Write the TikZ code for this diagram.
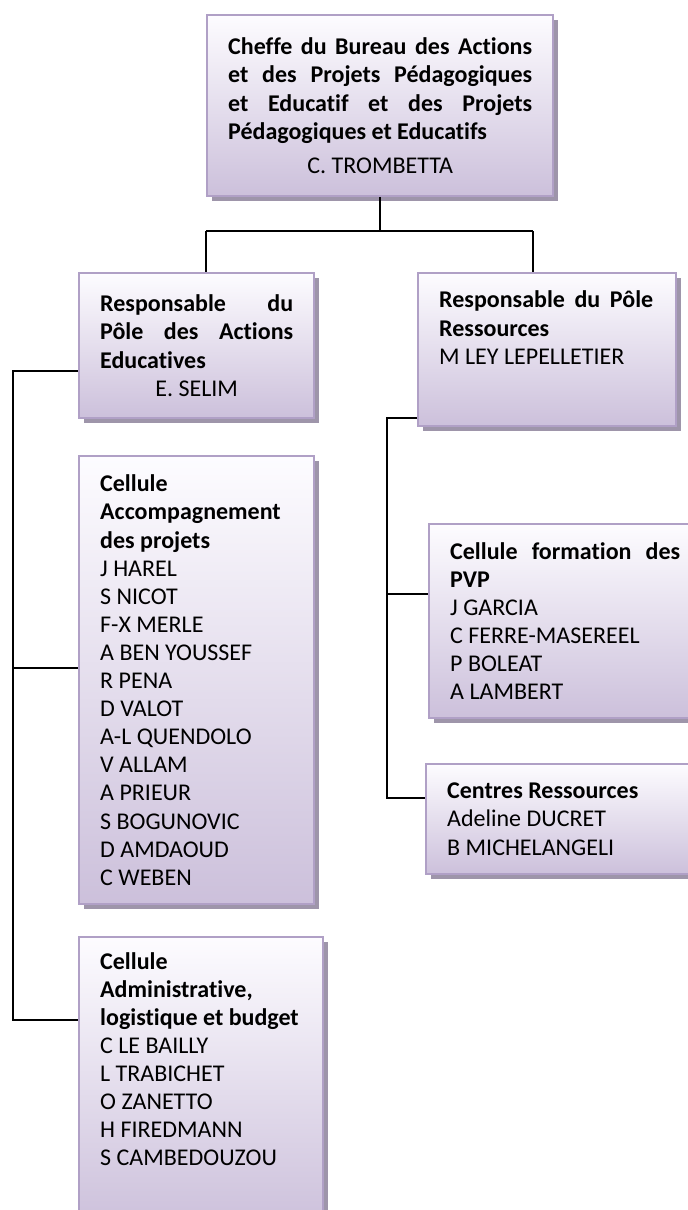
\documentclass[tikz,border=0pt]{standalone}
\usepackage{fontspec}
\setmainfont{Carlito}[Ligatures=NoCommon]
\usepackage{tikz}
\usetikzlibrary{shadows}
\definecolor{unitline}{RGB}{176,160,198}
\definecolor{unittop}{RGB}{253,252,255}
\definecolor{unitbot}{RGB}{204,192,219}
\definecolor{unitshade}{RGB}{158,149,170}
\newcommand{\fullrow}[2][\hsize]{\makebox[#1][s]{\spaceskip=0pt\xspaceskip=0pt\relax #2}}
\newcommand{\namerow}[1]{\makebox[\hsize]{#1}}
\tikzstyle{unit} = [rectangle, anchor=north west, draw=unitline, line width=1.2pt, top color=unittop, bottom color=unitbot, drop shadow={shadow xshift=2.2pt, shadow yshift=-2.5pt, fill=unitshade, opacity=1}, inner xsep=10.5pt, inner ysep=0pt, align=flush left, font=\fontsize{12}{14.05}\selectfont]
\tikzstyle{link} = [line width=1pt, black]

\begin{document}
\begin{tikzpicture}[x=0.5pt, y=-0.5pt]
\useasboundingbox (0,0) rectangle (688,1210);

\node (n1) [unit, text width=152pt, minimum width=173pt, minimum height=90.5pt] at (206,14) {\fullrow{\textbf{Cheffe du Bureau des Actions}}\\ \fullrow{\textbf{et des Projets Pédagogiques}}\\ \fullrow{\textbf{et Educatif et des Projets}}\\ \textbf{Pédagogiques et Educatifs}\\[3pt] \namerow{C. TROMBETTA}};
\node (n2) [unit, text width=96.5pt, minimum width=117.5pt, minimum height=72.5pt] at (78,272) {\fullrow{\textbf{Responsable du}}\\ \fullrow{\textbf{Pôle des Actions}}\\ \textbf{Educatives}\\ \namerow{E. SELIM}};
\node (n3) [unit, text width=108pt, minimum width=129pt, minimum height=76.5pt] at (417,272) {\fullrow[107pt]{\textbf{Responsable du Pôle}}\\ \textbf{Ressources}\\ M LEY LEPELLETIER\\[8pt] \mbox{}};
\node (n4) [unit, text width=96.5pt, minimum width=117.5pt, minimum height=224pt] at (78,455) {\textbf{Cellule}\\ \textbf{Accompagnement}\\ \textbf{des projets}\\ J HAREL\\ S NICOT\\ F-X MERLE\\ A BEN YOUSSEF\\ R PENA\\ D VALOT\\ A-L QUENDOLO\\ V ALLAM\\ A PRIEUR\\ S BOGUNOVIC\\ D AMDAOUD\\ C WEBEN};
\node (n5) [unit, text width=101pt, minimum width=122pt, minimum height=145pt] at (78,936) {\textbf{Cellule}\\ \textbf{Administrative,}\\ \textbf{logistique et budget}\\ C LE BAILLY\\ L TRABICHET\\ O ZANETTO\\ H FIREDMANN\\ S CAMBEDOUZOU\\[9pt] \mbox{}};
\node (n6) [unit, text width=119pt, minimum width=140pt, minimum height=97pt] at (428,523) {\fullrow[115pt]{\textbf{Cellule formation des}}\\ \textbf{PVP}\\ J GARCIA\\ C FERRE-MASEREEL\\ P BOLEAT\\ A LAMBERT};
\node (n7) [unit, text width=120pt, minimum width=141pt, minimum height=55pt] at (425,763) {\textbf{Centres Ressources}\\ Adeline DUCRET\\ B MICHELANGELI};

\coordinate (j1) at (206,231);
\coordinate (j2) at (533,231);
\coordinate (s1) at (13,371);
\coordinate (s2) at (13,668);
\coordinate (s3) at (13,1020);
\coordinate (r1) at (387,418);
\coordinate (r2) at (387,594);
\coordinate (r3) at (387,798);

\draw [link] (n1.south) -- (n1.south |- j1);
\draw [link] (j1) -- (j2);
\draw [link] (j1) -- (j1 |- n2.north);
\draw [link] (j2) -- (j2 |- n3.north);
\draw [link] (n2.west |- s1) -- (s1) -- (s3) -- (n5.west |- s3);
\draw [link] (s2) -- (n4.west |- s2);
\draw [link] (n3.west |- r1) -- (r1) -- (r3) -- (n7.west |- r3);
\draw [link] (r2) -- (n6.west |- r2);

\end{tikzpicture}
\end{document}
